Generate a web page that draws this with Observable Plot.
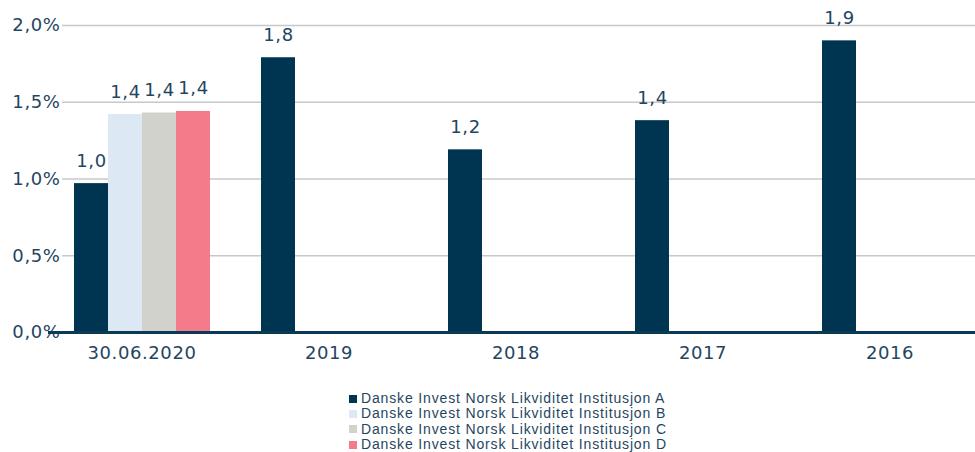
<!DOCTYPE html>
<html>
<head>
<meta charset="utf-8">
<script src="https://cdn.jsdelivr.net/npm/d3@7"></script>
<script src="https://cdn.jsdelivr.net/npm/@observablehq/plot@0.6"></script>
<style>
  body { margin: 0; background: #fff; }
  #chart { width: 975px; }
  .legend { padding-left: 349px; margin-top: 11px; font-family: "Liberation Sans", Arial, sans-serif; font-size: 14px; letter-spacing: 0.85px; color: #1f4661; }
  .legend .row { display: flex; align-items: center; height: 15.3px; line-height: 15.3px; white-space: nowrap; }
  .legend .sw { width: 8px; height: 8px; margin-right: 4px; flex: none; }
</style>
</head>
<body>
<div id="chart"></div>
<script>
const categories = ["30.06.2020", "2019", "2018", "2017", "2016"];
const seriesNames = [
  "Danske Invest Norsk Likviditet Institusjon A",
  "Danske Invest Norsk Likviditet Institusjon B",
  "Danske Invest Norsk Likviditet Institusjon C",
  "Danske Invest Norsk Likviditet Institusjon D"
];
const seriesColors = ["#003551", "#dce9f5", "#d2d2cc", "#f47c8a"];
const valuesA = [0.97, 1.79, 1.19, 1.38, 1.90];
const valuesB = [1.42, null, null, null, null];
const valuesC = [1.43, null, null, null, null];
const valuesD = [1.44, null, null, null, null];
const yTicks = [0, 0.5, 1.0, 1.5, 2.0];

const allValues = [valuesA, valuesB, valuesC, valuesD];
const textColor = "#1f4661";
const band = 187, padL = 26, barW = 34;

const fmt1 = v => v.toFixed(1).replace(".", ",");
const marks = [
  Plot.ruleY(yTicks.filter(t => t > 0), {stroke: "#c8c8c8", strokeWidth: 1.5})
];
allValues.forEach((vals, i) => {
  const rows = categories.map((c, j) => ({cat: c, v: vals[j]})).filter(d => d.v != null);
  const insetLeft = padL + i * barW;
  const insetRight = band - padL - (i + 1) * barW;
  marks.push(Plot.barY(rows, {x: "cat", y: "v", fill: seriesColors[i], insetLeft, insetRight}));
  marks.push(Plot.text(rows, {
    x: "cat", y: "v", text: d => fmt1(d.v),
    dx: padL + i * barW + barW / 2 - band / 2, dy: -17,
    lineAnchor: "bottom", fill: textColor, fontSize: 18
  }));
});
marks.push(Plot.ruleY([0], {stroke: "#0b3a55", strokeWidth: 3, insetLeft: -14}));

const chart = Plot.plot({
  width: 975,
  height: 380,
  marginTop: 25,
  marginBottom: 48,
  marginLeft: 62,
  marginRight: 0,
  style: {fontFamily: "'DejaVu Sans', sans-serif", fontSize: "18px", color: textColor, background: "white", letterSpacing: "0.6px"},
  x: {domain: categories, range: [48, 983], padding: 0, tickSize: 0, tickPadding: 14, label: null},
  y: {domain: [0, 2], ticks: yTicks, tickFormat: d => fmt1(d) + "%", tickSize: 0, tickPadding: 2, label: null},
  marks
});
document.getElementById("chart").appendChild(chart);

const legend = document.createElement("div");
legend.className = "legend";
seriesNames.forEach((name, i) => {
  const row = document.createElement("div");
  row.className = "row";
  const sw = document.createElement("span");
  sw.className = "sw";
  sw.style.background = seriesColors[i];
  const t = document.createElement("span");
  t.textContent = name;
  row.appendChild(sw); row.appendChild(t);
  legend.appendChild(row);
});
document.getElementById("chart").appendChild(legend);
</script>
</body>
</html>
